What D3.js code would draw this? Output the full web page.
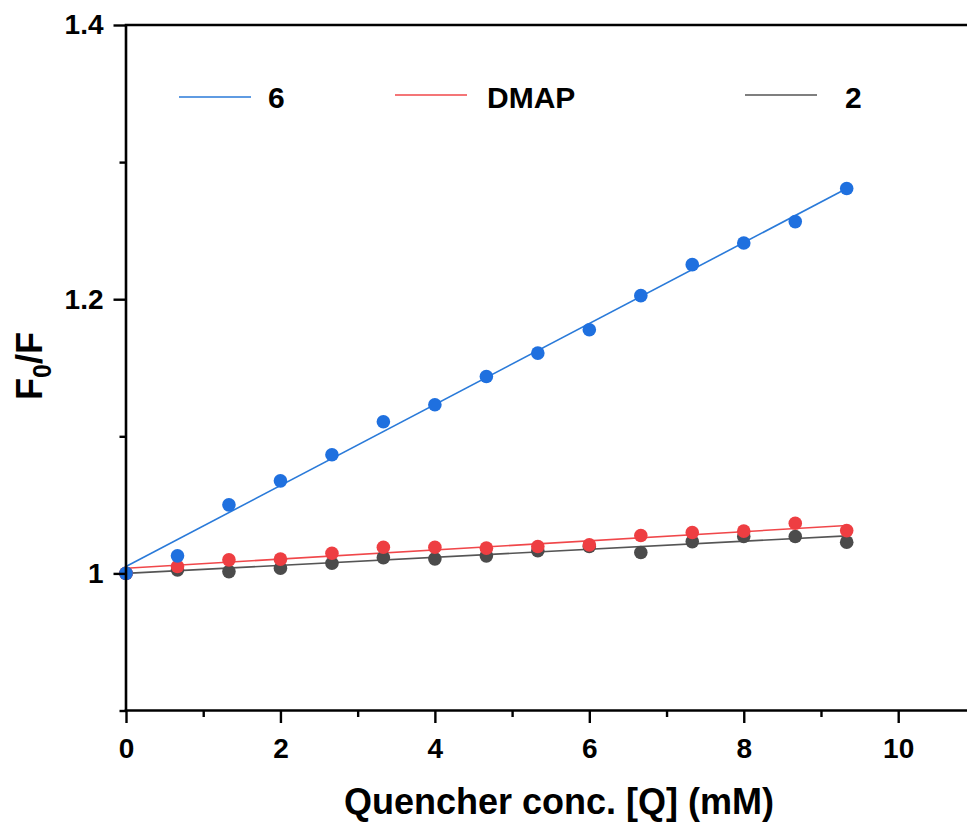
<!DOCTYPE html>
<html><head><meta charset="utf-8">
<script src="https://cdn.jsdelivr.net/npm/d3@7"></script>
<style>body{margin:0;background:#fff}svg{display:block}text{font-family:"Liberation Sans",Arial,sans-serif;font-weight:bold}</style>
</head><body>
<script>
const conc = [0, 0.667, 1.333, 2, 2.667, 3.333, 4, 4.667, 5.333, 6, 6.667, 7.333, 8, 8.667, 9.333];
const series6 = [1.000, 1.0128, 1.050, 1.0675, 1.0865, 1.1106, 1.123, 1.1436, 1.1607, 1.1777, 1.2026, 1.2252, 1.241, 1.2566, 1.2807];
const seriesDMAP = [1.000, 1.005, 1.0099, 1.0104, 1.0147, 1.0191, 1.0191, 1.0184, 1.0196, 1.0208, 1.0276, 1.0298, 1.0308, 1.0366, 1.0312];
const series2 = [1.000, 1.0026, 1.0013, 1.0038, 1.0074, 1.0115, 1.0106, 1.0128, 1.0165, 1.0196, 1.0152, 1.0232, 1.0269, 1.0269, 1.0228];
const fit6 = [1.005, 1.2807];
const fitDMAP = [1.0038, 1.0349];
const fit2 = [1.000, 1.0274];
const names = ["6", "DMAP", "2"];
const xMajor = [0, 2, 4, 6, 8, 10];
const xMinor = [1, 3, 5, 7, 9, 11];
const yMajor = [1.0, 1.2, 1.4];
const yMinor = [0.9, 1.1, 1.3];

const W = 967, H = 822;
const svg = d3.select("body").append("svg").attr("width", W).attr("height", H);
const x = d3.scaleLinear().domain([0, 11]).range([126, 126 + 11 * 77.22]);
const y = d3.scaleLinear().domain([0.9, 1.4]).range([710.5, 25]);

const seriesList = [
  {name: names[2], vals: series2, fit: fit2, dot: "#4b4b4b", line: "#555555"},
  {name: names[1], vals: seriesDMAP, fit: fitDMAP, dot: "#ee3e42", line: "#f0474a"},
  {name: names[0], vals: series6, fit: fit6, dot: "#1f70df", line: "#2a7ad9"}
];

// fit lines
seriesList.forEach(s => {
  svg.append("line")
    .attr("x1", x(conc[0])).attr("y1", y(s.fit[0]))
    .attr("x2", x(conc[conc.length - 1])).attr("y2", y(s.fit[1]))
    .attr("stroke", s.line).attr("stroke-width", 1.6);
});
// dots
seriesList.forEach(s => {
  svg.append("g").selectAll("circle").data(s.vals).join("circle")
    .attr("cx", (d, i) => x(conc[i])).attr("cy", d => y(d))
    .attr("r", 6.8).attr("fill", s.dot);
});

// axes
svg.append("g").attr("transform", `translate(0,${y(0.9)})`)
  .call(d3.axisBottom(x).tickValues(xMajor).tickFormat(d3.format("d")).tickSize(12.5).tickPadding(15));
svg.append("g").attr("transform", `translate(0,${y(0.9)})`)
  .call(d3.axisBottom(x).tickValues(xMinor).tickFormat("").tickSize(6.5));
svg.append("g").attr("transform", `translate(${x(0)},0)`)
  .call(d3.axisLeft(y).tickValues(yMajor).tickFormat(d => d === 1 ? "1" : d3.format(".1f")(d)).tickSize(12.5).tickPadding(10));
svg.append("g").attr("transform", `translate(${x(0)},0)`)
  .call(d3.axisLeft(y).tickValues(yMinor).tickFormat("").tickSize(6.5));
svg.selectAll(".domain").remove();
svg.selectAll(".tick line").attr("stroke", "#000").attr("stroke-width", 2.4);
svg.selectAll(".tick text").attr("font-size", 28).attr("fill", "#000")
  .style("font-family", "'Liberation Sans',Arial,sans-serif").style("font-weight", "bold");
svg.append("line").attr("x1", x(0) - 1.3).attr("x2", W + 10).attr("y1", y(0.9)).attr("y2", y(0.9)).attr("stroke", "#000").attr("stroke-width", 2.6);
svg.append("line").attr("x1", x(0)).attr("x2", x(0)).attr("y1", y(1.4)).attr("y2", y(0.9)).attr("stroke", "#000").attr("stroke-width", 2.6);
// top frame line
svg.append("line").attr("x1", x(0) - 1.3).attr("x2", W + 10).attr("y1", y(1.4)).attr("y2", y(1.4)).attr("stroke", "#000").attr("stroke-width", 2.6);

// axis titles
svg.append("text").attr("x", 559).attr("y", 814).attr("text-anchor", "middle")
  .attr("font-size", 36).text("Quencher conc. [Q] (mM)");
const yt = svg.append("text").attr("transform", "translate(42,366) rotate(-90)").attr("text-anchor", "middle").attr("font-size", 36);
yt.append("tspan").text("F");
yt.append("tspan").attr("font-size", 25).attr("dy", 9).text("0");
yt.append("tspan").attr("dy", -9).text("/F");

// legend
const legendItems = [
  {name: names[0], color: "#2a7ad9", lx: 179, tx: 268, ly: 97},
  {name: names[1], color: "#f0474a", lx: 395, tx: 487, ly: 95},
  {name: names[2], color: "#555555", lx: 745, tx: 845, ly: 95}
];
legendItems.forEach(l => {
  svg.append("line").attr("x1", l.lx).attr("x2", l.lx + 72).attr("y1", l.ly).attr("y2", l.ly)
    .attr("stroke", l.color).attr("stroke-width", 1.6);
  svg.append("text").attr("x", l.tx).attr("y", 108).attr("font-size", 30).text(l.name);
});
</script>
</body></html>
